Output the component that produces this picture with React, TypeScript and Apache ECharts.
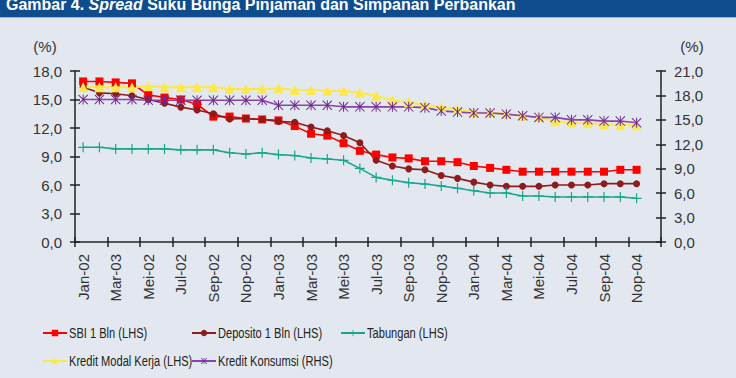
import React, { useEffect, useRef } from "react";
import * as echarts from "echarts";

// Monthly categories, Jan-02 .. Des-04
const months = [
  "Jan-02", "Feb-02", "Mar-02", "Apr-02", "Mei-02", "Jun-02", "Jul-02", "Agu-02", "Sep-02", "Okt-02", "Nop-02", "Des-02",
  "Jan-03", "Feb-03", "Mar-03", "Apr-03", "Mei-03", "Jun-03", "Jul-03", "Agu-03", "Sep-03", "Okt-03", "Nop-03", "Des-03",
  "Jan-04", "Feb-04", "Mar-04", "Apr-04", "Mei-04", "Jun-04", "Jul-04", "Agu-04", "Sep-04", "Okt-04", "Nop-04", "Des-04",
];

// Labels printed under every second month
const tickLabels = [
  "Jan-02", "Mar-03", "Mei-02", "Jul-02", "Sep-02", "Nop-02",
  "Jan-03", "Mar-03", "Mei-03", "Jul-03", "Sep-03", "Nop-03",
  "Jan-04", "Mar-04", "Mei-04", "Jul-04", "Sep-04", "Nop-04",
];

const leftTicks = { min: 0, max: 18, interval: 3 };
const rightTicks = { min: 0, max: 21, interval: 3 };

// Interest rates (%)
const sbi = [
  16.9, 16.9, 16.8, 16.7, 15.5, 15.2, 15.0, 14.5, 13.2, 13.2, 13.0, 12.9,
  12.8, 12.2, 11.4, 11.2, 10.4, 9.6, 9.2, 8.9, 8.8, 8.5, 8.5, 8.4,
  8.0, 7.8, 7.6, 7.4, 7.4, 7.4, 7.4, 7.4, 7.4, 7.6, 7.6,
];
const deposito = [
  16.3, 15.7, 15.6, 15.4, 15.0, 14.6, 14.2, 13.9, 13.5, 12.95, 13.0, 12.9,
  12.7, 12.6, 12.1, 11.7, 11.2, 10.45, 8.6, 8.0, 7.7, 7.6, 7.0, 6.7,
  6.3, 6.0, 5.86, 5.86, 5.86, 6.0, 6.0, 6.0, 6.14, 6.14, 6.14,
];
const tabungan = [
  9.97, 9.97, 9.8, 9.8, 9.8, 9.8, 9.7, 9.7, 9.7, 9.4, 9.26, 9.4,
  9.2, 9.1, 8.84, 8.74, 8.6, 7.75, 6.8, 6.5, 6.25, 6.1, 5.9, 5.65,
  5.4, 5.16, 5.16, 4.84, 4.84, 4.74, 4.74, 4.74, 4.74, 4.74, 4.6,
];
const kreditModalKerja = [
  16.3, 16.3, 16.3, 16.3, 16.4, 16.3, 16.3, 16.3, 16.3, 16.1, 16.1, 16.1,
  16.2, 16.0, 16.0, 15.9, 15.9, 15.7, 15.4, 14.95, 14.7, 14.45, 14.2, 14.0,
  13.65, 13.65, 13.5, 13.3, 13.15, 12.7, 12.6, 12.5, 12.4, 12.3, 12.3,
];
const kreditKonsumsi = [
  17.5, 17.5, 17.5, 17.5, 17.4, 17.4, 17.4, 17.4, 17.4, 17.4, 17.4, 17.4,
  16.8, 16.8, 16.8, 16.8, 16.6, 16.6, 16.6, 16.6, 16.6, 16.5, 16.1, 15.95,
  15.85, 15.85, 15.7, 15.5, 15.3, 15.3, 15.0, 15.0, 14.85, 14.85, 14.65,
];

const seriesNames = [
  "SBI 1 Bln (LHS)",
  "Deposito 1 Bln (LHS)",
  "Tabungan (LHS)",
  "Kredit Modal Kerja (LHS)",
  "Kredit Konsumsi (RHS)",
];

const titleText = "Gambar 4. ";
const titleItalic = "Spread";
const titleRest = " Suku Bunga Pinjaman dan Simpanan Perbankan";

const AXIS_FONT = "'Liberation Sans', Arial, sans-serif";
const BG = "#E3E8F0";

const PLUS = "path://M44,0H56V44H100V56H56V100H44V56H0V44H44Z";
const ASTERISK =
  "path://M45,0H55V100H45Z M0,7L7,0L100,93L93,100Z M93,0L100,7L7,100L0,93Z";

export default function App() {
  const ref = useRef<HTMLDivElement>(null);

  useEffect(() => {
    document.body.style.margin = "0";
    if (!ref.current) return;
    const chart = echarts.init(ref.current, undefined, { renderer: "svg" });

    const axisLabelStyle = { color: "#333", fontSize: 15, fontFamily: AXIS_FONT };
    const axisLineStyle = { color: "#222", width: 1.5 };
    const valueFmt = (v: number) => v.toFixed(1).replace(".", ",");

    const line = (
      name: string,
      data: number[],
      color: string,
      symbol: string,
      symbolSize: number,
      yAxisIndex: number,
      width: number,
      markerColor?: string
    ) => ({
      name,
      type: "line",
      data,
      xAxisIndex: 0,
      yAxisIndex,
      symbol,
      symbolSize,
      showSymbol: true,
      lineStyle: { color, width },
      itemStyle: { color: markerColor || color },
      emphasis: { disabled: true },
    });

    // legend slots: series index, icon left, row centre
    const legendSpots: [number, number, number][] = [
      [0, 42, 333],
      [1, 191, 333],
      [2, 340, 333],
      [3, 42, 361],
      [4, 191, 361],
    ];

    chart.setOption({
      animation: false,
      backgroundColor: BG,
      grid: {
        left: 75,
        right: 75,
        top: 71,
        bottom: 136,
        containLabel: false,
        outerBoundsMode: "none",
      },
      xAxis: [
        {
          type: "category",
          data: months,
          position: "bottom",
          boundaryGap: true,
          axisLine: { show: true, lineStyle: axisLineStyle },
          axisTick: { show: true, interval: 1, length: 5, lineStyle: axisLineStyle },
          axisLabel: {
            ...axisLabelStyle,
            interval: 1,
            rotate: 90,
            margin: 12,
            formatter: (_v: string, i: number) => tickLabels[Math.floor(i / 2)] ?? "",
          },
          splitLine: { show: false },
        },
        {
          type: "category",
          data: months,
          position: "bottom",
          boundaryGap: true,
          axisLine: { show: false },
          axisTick: { show: true, inside: true, interval: 1, length: 5, lineStyle: axisLineStyle },
          axisLabel: { show: false },
          splitLine: { show: false },
        },
      ],
      yAxis: [
        {
          type: "value",
          position: "left",
          ...leftTicks,
          axisLine: { show: true, lineStyle: axisLineStyle },
          axisTick: { show: true, length: 5, lineStyle: axisLineStyle },
          axisLabel: { ...axisLabelStyle, margin: 13, formatter: valueFmt },
          splitLine: { show: false },
        },
        {
          type: "value",
          position: "right",
          ...rightTicks,
          axisLine: { show: true, lineStyle: axisLineStyle },
          axisTick: { show: true, length: 5, lineStyle: axisLineStyle },
          axisLabel: { ...axisLabelStyle, margin: 13, formatter: valueFmt },
          splitLine: { show: false },
        },
        {
          type: "value",
          position: "left",
          ...leftTicks,
          axisLine: { show: false },
          axisTick: { show: true, inside: true, length: 5, lineStyle: axisLineStyle },
          axisLabel: { show: false },
          splitLine: { show: false },
        },
        {
          type: "value",
          position: "right",
          ...rightTicks,
          axisLine: { show: false },
          axisTick: { show: true, inside: true, length: 5, lineStyle: axisLineStyle },
          axisLabel: { show: false },
          splitLine: { show: false },
        },
      ],
      // icons come from the legend; names are set in a condensed face below
      legend: legendSpots.map(([idx, left, cy]) => ({
        data: [seriesNames[idx]],
        left,
        top: cy - 4,
        padding: 0,
        itemWidth: 24,
        itemHeight: 8,
        selectedMode: false,
        formatter: () => "",
        textStyle: { fontSize: 8, padding: 0 },
      })),
      graphic: [
        { type: "rect", left: 0, top: 0, shape: { width: 736, height: 17 }, style: { fill: "#0F4C8D" }, silent: true },
        { type: "rect", left: 0, top: 17, shape: { width: 736, height: 1 }, style: { fill: "#9DB2CE" }, silent: true },
        {
          type: "text",
          x: 6,
          y: 4,
          scaleX: 0.94,
          silent: true,
          style: {
            text: `{b|${titleText}}{i|${titleItalic}}{b|${titleRest}}`,
            verticalAlign: "middle",
            rich: {
              b: { fill: "#fff", fontSize: 17, fontWeight: "bold", fontFamily: AXIS_FONT },
              i: { fill: "#fff", fontSize: 17, fontWeight: "bold", fontStyle: "italic", fontFamily: AXIS_FONT },
            },
          },
        },
        {
          type: "text",
          x: 45,
          y: 46,
          silent: true,
          style: { text: "(%)", fill: "#333", fontSize: 15, fontFamily: AXIS_FONT, align: "center", verticalAlign: "middle" },
        },
        {
          type: "text",
          x: 692,
          y: 46,
          silent: true,
          style: { text: "(%)", fill: "#333", fontSize: 15, fontFamily: AXIS_FONT, align: "center", verticalAlign: "middle" },
        },
        ...legendSpots.map(([idx, left, cy]) => ({
          type: "text",
          x: left + 27,
          y: cy,
          scaleX: 0.74,
          silent: true,
          style: {
            text: seriesNames[idx],
            fill: "#222",
            fontSize: 15,
            fontFamily: AXIS_FONT,
            align: "left",
            verticalAlign: "middle",
          },
        })),
      ],
      series: [
        line(seriesNames[0], sbi, "#FF0000", "rect", 8, 0, 1.6),
        line(seriesNames[1], deposito, "#8E1C1C", "circle", 7, 0, 1.6),
        line(seriesNames[2], tabungan, "#19A68C", PLUS, 10, 0, 1.6),
        line(seriesNames[3], kreditModalKerja, "#FBE94C", "triangle", 10, 0, 2.2),
        line(seriesNames[4], kreditKonsumsi, "#8A42A8", ASTERISK, 10, 1, 1.6, "#6E2C8C"),
      ],
    });

    return () => chart.dispose();
  }, []);

  return <div ref={ref} style={{ width: 736, height: 378 }} />;
}
